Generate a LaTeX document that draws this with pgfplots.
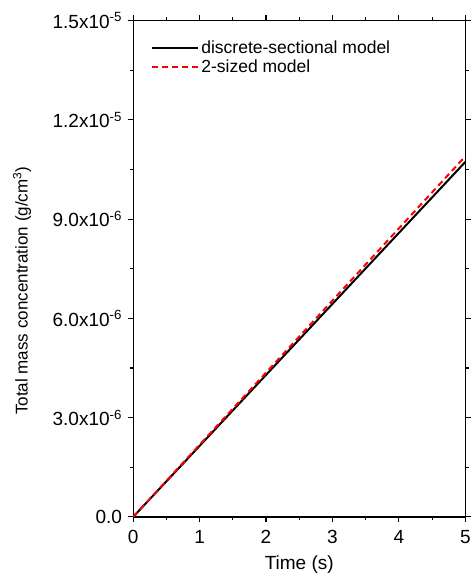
\documentclass[border=0pt]{standalone}
\usepackage{pgfplots}
\pgfplotsset{compat=1.18}
\usepackage{fontspec}
\setmainfont{Liberation Sans}

\begin{document}
\begin{tikzpicture}
\begin{axis}[
  scale only axis,
  width=332pt, height=496pt,
  xmin=0, xmax=5, ymin=0, ymax=1.5e-5,
  xtick={0,1,2,3,4,5},
  ytick={0,3e-6,6e-6,9e-6,1.2e-5,1.5e-5},
  yticklabels={0.0, 3.0x10\textsuperscript{-6}, 6.0x10\textsuperscript{-6},
               9.0x10\textsuperscript{-6}, 1.2x10\textsuperscript{-5},
               1.5x10\textsuperscript{-5}},
  scaled y ticks=false,
  minor x tick num=1, minor y tick num=1,
  xtick pos=both, ytick pos=both,
  xtick align=outside, ytick align=outside,
  major tick length=5.5pt, minor tick length=3.5pt,
  every major tick/.style={black, line width=1.1pt},
  every minor tick/.style={black, line width=1.1pt},
  axis line style={line width=1.2pt},
  tick label style={font=\fontsize{19}{21}\selectfont},
  xticklabel style={yshift=-4pt},
  yticklabel style={xshift=-2pt},
  /pgf/number format/assume math mode=true,
  xlabel={Time (s)},
  ylabel={Total mass concentration (g/cm\textsuperscript{3})},
  xlabel style={font=\fontsize{19}{21}\selectfont, at={(axis description cs:0.5,0)},
    anchor=center, yshift=-48pt},
  ylabel style={font=\fontsize{17}{19}\selectfont, at={(axis description cs:0,0.5)},
    anchor=center, xshift=-22pt, yshift=111pt},
  legend style={draw=none, fill=none, at={(0.045,0.967)}, anchor=north west,
    font=\fontsize{17.5}{20}\selectfont, row sep=1pt,
    /tikz/every even column/.append style={column sep=2pt}},
  legend cell align=left,
  legend image code/.code={\draw[#1] (0pt,0pt) -- (46pt,0pt);},
]
\addplot[black, line width=2pt] coordinates {
  (0,0) (1,2.146e-6) (2,4.292e-6) (3,6.438e-6) (4,8.584e-6) (5,1.073e-5)};
\addplot[red, line width=2pt, dash pattern=on 6pt off 4pt] coordinates {
  (0,0) (1,2.18e-6) (2,4.36e-6) (3,6.54e-6) (4,8.72e-6) (5,1.090e-5)};
\legend{discrete-sectional model, 2-sized model}
\end{axis}
\pgfresetboundingbox
\path ([shift={(-133pt,-63pt)}]current axis.south west) rectangle
      ([shift={(5.5pt,20.5pt)}]current axis.north east);
\end{tikzpicture}
\end{document}
